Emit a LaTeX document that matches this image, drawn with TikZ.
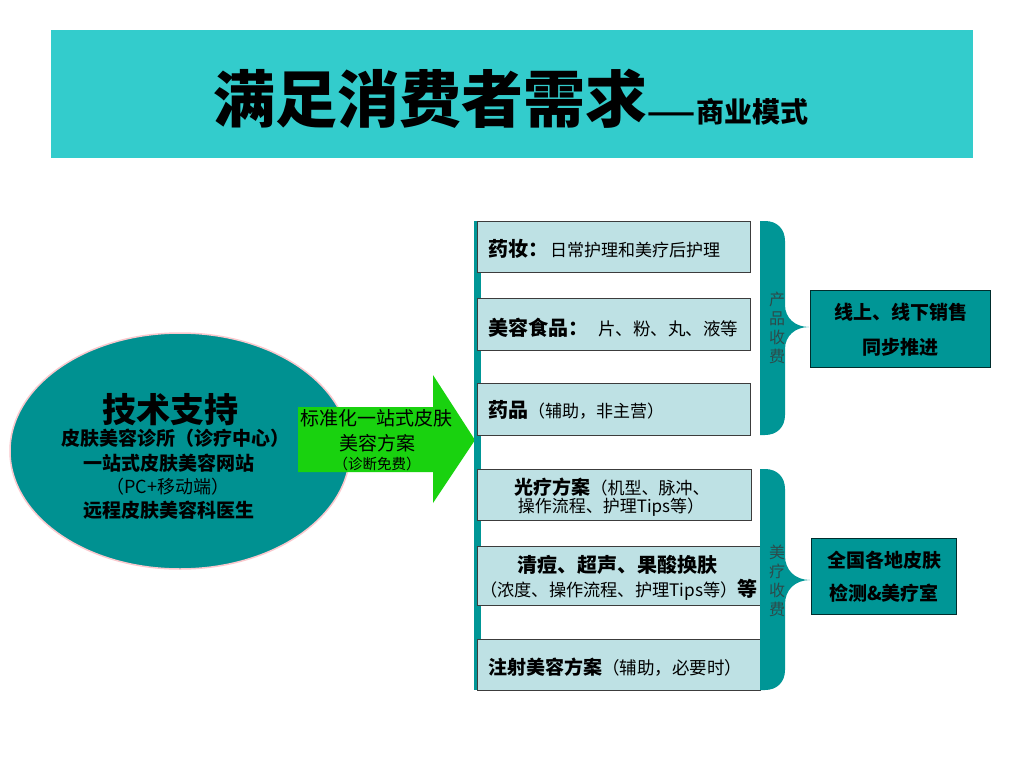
\documentclass[tikz,border=0pt]{standalone}
\usepackage{fontspec}
\setmainfont{Noto Sans CJK SC}
\usetikzlibrary{shapes.geometric}
\newcommand\fsz[1]{\fontsize{#1}{#1}\selectfont}
\definecolor{titlec}{RGB}{51,204,204}
\definecolor{tealc}{RGB}{0,150,150}
\definecolor{ellc}{RGB}{0,145,145}
\definecolor{pinkc}{RGB}{250,200,205}
\definecolor{greenc}{RGB}{25,210,15}
\definecolor{boxc}{RGB}{190,225,228}
\definecolor{edgec}{RGB}{60,60,60}
\definecolor{lblc}{RGB}{45,75,75}
\tikzset{
  box/.style={draw=edgec, line width=1.2pt, fill=boxc, anchor=north west, inner sep=0pt},
  tbox/.style={draw=black!70!tealc, line width=1pt, fill=tealc, anchor=north west, inner sep=0pt},
  txt/.style={inner sep=0pt, text=black},
}
\begin{document}
\begin{tikzpicture}[x=1pt,y=-1pt]
\useasboundingbox (0,0) rectangle (1024,768);
\fill[white] (0,0) rectangle (1024,768);
% title
\node[fill=titlec, anchor=north west, minimum width=922pt, minimum height=128pt, inner sep=0pt] (title) at (51,30) {};
\node[txt, anchor=base] (ttext) at (511,122) {\fsz{62}\bfseries 满足消费者需求\fsz{28}——商业模式};
% ellipse
\node[ellipse, fill=ellc, draw=pinkc, line width=1.5pt, minimum width=340pt, minimum height=236pt] (tech) at (180,451) {};
\node[txt] (t1) at (170,410) {\fsz{34}\bfseries 技术支持};
\node[txt] (t2) at (175,438) {\fsz{19}\bfseries 皮肤美容诊所（诊疗中心）};
\node[txt] (t3) at (169,463) {\fsz{19}\bfseries 一站式皮肤美容网站};
\node[txt] (t4) at (168,487) {\fsz{18}（PC+移动端）};
\node[txt] (t5) at (169,510) {\fsz{19}\bfseries 远程皮肤美容科医生};
% green arrow
\fill[greenc] (298,407) -- (433,407) -- (433,375) -- (475,440) -- (433,503) -- (433,472) -- (298,472) -- cycle;
\node[txt] (a1) at (376,418) {\fsz{19}标准化一站式皮肤};
\node[txt] (a2) at (377,443) {\fsz{19}美容方案};
\node[txt] (a3) at (377,464) {\fsz{14.5}（诊断免费）};
% left bar
\fill[tealc] (474,221) rectangle (481,690);
% boxes
\node[box, minimum width=273pt, minimum height=51pt] (b1) at (477,221) {};
\node[txt, anchor=west] at (488,249) {\fsz{20}\bfseries 药妆：\mdseries\fsz{17}\hspace{2pt}日常护理和美疗后护理};
\node[box, minimum width=273pt, minimum height=52pt] (b2) at (477,298) {};
\node[txt, anchor=west] at (488,328) {\fsz{20}\bfseries 美容食品：\mdseries\fsz{17.5}\hspace{10pt}片、粉、丸、液等};
\node[box, minimum width=273pt, minimum height=52pt] (b3) at (477,383) {};
\node[txt, anchor=west] at (488,410) {\fsz{20}\bfseries 药品\mdseries\fsz{17}（辅助，非主营）};
\node[box, minimum width=274pt, minimum height=51pt] (b4) at (477,469) {};
\node[txt] at (612,487) {\fsz{19}\bfseries 光疗方案\mdseries\fsz{17}（机型、脉冲、};
\node[txt] at (611,507) {\fsz{17}操作流程、护理Tips等）};
\node[box, minimum width=283pt, minimum height=59pt] (b5) at (477,546) {};
\node[txt] at (617,565) {\fsz{20}\bfseries 清痘、超声、果酸换肤};
\node[txt, anchor=west] at (480,590) {\fsz{17.2}（浓度、操作流程、护理Tips等）\fsz{20}\bfseries 等};
\node[box, minimum width=283pt, minimum height=51pt] (b6) at (477,639) {};
\node[txt, anchor=west] at (488,667) {\fsz{19}\bfseries 注射美容方案\mdseries\fsz{17.5}（辅助，必要时）};
% braces
\fill[tealc] (760,221) -- (765,221) .. controls (777,221) and (785,229) .. (785,241) -- (785,305) .. controls (785,318) and (795,327) .. (809,327) .. controls (795,327) and (785,336) .. (785,349) -- (785,415) .. controls (785,427) and (777,435) .. (765,435) -- (760,435) -- cycle;
\fill[tealc] (760,469) -- (765,469) .. controls (777,469) and (785,477) .. (785,489) -- (785,556) .. controls (785,570) and (795,580) .. (810,580) .. controls (795,580) and (785,590) .. (785,604) -- (785,670) .. controls (785,682) and (777,690) .. (765,690) -- (760,690) -- cycle;
\node[txt, text=lblc, align=center, font=\fsz{16}] (l1) at (777,328) {产\\[3pt]品\\[3pt]收\\[3pt]费};
\node[txt, text=lblc, align=center, font=\fsz{16}] (l2) at (777,581) {美\\[3pt]疗\\[3pt]收\\[3pt]费};
% right boxes
\node[tbox, minimum width=180pt, minimum height=77pt] (r1) at (810,290) {};
\node[txt] at (r1.center) [yshift=17pt] {\fsz{19}\bfseries 线上、线下销售};
\node[txt] at (r1.center) [yshift=-18pt] {\fsz{19}\bfseries 同步推进};
\node[tbox, minimum width=145pt, minimum height=76pt] (r2) at (811,538) {};
\node[txt] at (r2.center) [yshift=16pt] {\fsz{19}\bfseries 全国各地皮肤};
\node[txt] at (r2.center) [yshift=-17pt] {\fsz{19}\bfseries 检测\&美疗室};
\end{tikzpicture}
\end{document}
